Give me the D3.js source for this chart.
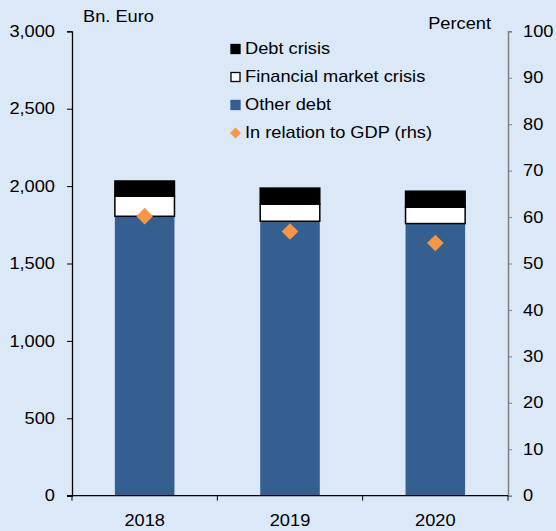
<!DOCTYPE html>
<html>
<head>
<meta charset="utf-8">
<script src="https://cdn.jsdelivr.net/npm/d3@7"></script>
<style>
  body { margin: 0; background: #dbe8f7; }
  svg { display: block; font-family: "Liberation Sans", Arial, sans-serif; }
</style>
</head>
<body>
<svg id="chart"></svg>
<script>
// chart data
var years = ["2018", "2019", "2020"];
var otherDebt = [1805, 1773, 1758];
var financialCrisis = [130, 110, 106];
var debtCrisis = [98, 104, 103];
var gdpRatio = [60.2, 56.9, 54.4];

var leftTicks = [0, 500, 1000, 1500, 2000, 2500, 3000];
var rightTicks = [0, 10, 20, 30, 40, 50, 60, 70, 80, 90, 100];

var legendItems = [
    { name: "Debt crisis", type: "rect", fill: "#000000", stroke: "#000000" },
    { name: "Financial market crisis", type: "rect", fill: "#ffffff", stroke: "#000000" },
    { name: "Other debt", type: "rect", fill: "#365f91", stroke: "#365f91" },
    { name: "In relation to GDP (rhs)", type: "diamond", fill: "#f79646" }
];

var W = 556, H = 531;
var margin = { left: 72, right: 48, top: 31.3, bottom: 35.3 };
var width = W - margin.left - margin.right;
var height = H - margin.top - margin.bottom;
var fontSize = "16px";
var stretchX = 1.14;

var svg = d3.select("#chart").attr("width", W).attr("height", H);
var g = svg.append("g").attr("transform", "translate(" + margin.left + "," + margin.top + ")");

var x = d3.scaleBand().domain(years).range([0, width]).paddingInner(0.59).paddingOuter(0.295);
var yL = d3.scaleLinear().domain([0, 3000]).range([height, 0]);
var yR = d3.scaleLinear().domain([0, 100]).range([height, 0]);

// stacked bars
var rows = years.map(function(yr, i) {
    return { year: yr, other: otherDebt[i], fin: financialCrisis[i], debt: debtCrisis[i] };
});
var stack = d3.stack().keys(["other", "fin", "debt"]);
var series = stack(rows);
var fills = { other: "#365f91", fin: "#ffffff", debt: "#000000" };

series.forEach(function(s) {
    g.selectAll(".bar-" + s.key)
        .data(s).enter()
        .append("rect")
        .attr("class", "bar-" + s.key)
        .attr("x", d => x(d.data.year))
        .attr("width", x.bandwidth())
        .attr("y", d => yL(d[1]))
        .attr("height", d => yL(d[0]) - yL(d[1]))
        .style("fill", fills[s.key])
        .style("stroke", s.key == "other" ? "none" : "#000000")
        .style("stroke-width", s.key == "other" ? 0 : 1.5);
});

// left axis
var axL = g.append("g")
    .call(d3.axisLeft(yL).tickValues(leftTicks).tickSize(5).tickPadding(12).tickFormat(d3.format(",")));
axL.select(".domain").attr("stroke", "#000").attr("stroke-width", 1.3);
axL.selectAll(".tick line").attr("stroke", "#000");

// right axis
var axR = g.append("g")
    .attr("transform", "translate(" + width + ",0)")
    .call(d3.axisRight(yR).tickValues(rightTicks).tickSize(4).tickPadding(11));
axR.select(".domain").attr("stroke", "#808080").attr("stroke-width", 1.5);
axR.selectAll(".tick line").attr("stroke", "#808080");

// bottom axis
var axB = g.append("g")
    .attr("transform", "translate(0," + height + ")")
    .call(d3.axisBottom(x).tickSize(0).tickPadding(19));
axB.select(".domain").remove();
g.append("line")
    .attr("x1", -5).attr("x2", width)
    .attr("y1", height).attr("y2", height)
    .attr("stroke", "#000").attr("stroke-width", 1.2);
var xEdges = years.map(d => x(d) - x.step() * x.paddingInner() / 2).concat([width]);
g.selectAll(".xtick")
    .data(xEdges).enter()
    .append("line")
    .attr("x1", d => d).attr("x2", d => d)
    .attr("y1", height).attr("y2", height + 5)
    .attr("stroke", "#000");

// GDP diamonds
g.selectAll(".gdp")
    .data(gdpRatio).enter()
    .append("path")
    .attr("class", "gdp")
    .attr("d", d3.symbol(d3.symbolSquare).size(138))
    .attr("transform", (d, i) => "translate(" + (x(years[i]) + x.bandwidth() / 2) + "," + yR(d) + ") rotate(45)")
    .style("fill", "#f79646");

// axis titles
svg.append("text").attr("x", 83).attr("y", 22).text("Bn. Euro");
svg.append("text").attr("x", 491).attr("y", 29)
    .attr("text-anchor", "end").text("Percent");

// legend
var lg = svg.append("g").attr("transform", "translate(230,0)");
legendItems.forEach(function(item, i) {
    var yy = 54 + i * 28;
    if (item.type == "rect") {
        lg.append("rect")
            .attr("x", 1).attr("y", yy - 9.5)
            .attr("width", 9).attr("height", 9)
            .style("fill", item.fill)
            .style("stroke", item.stroke)
            .style("stroke-width", 1.3);
    } else {
        lg.append("path")
            .attr("d", d3.symbol(d3.symbolSquare).size(60))
            .attr("transform", "translate(5.5," + (yy - 5) + ") rotate(45)")
            .style("fill", item.fill);
    }
    lg.append("text")
        .attr("x", 15).attr("y", yy)
        .text(item.name);
});

// the original lettering is a bit wider than normal Arial
svg.selectAll("text").each(function() {
    var t = d3.select(this);
    var tx = +t.attr("x") || 0, ty = +t.attr("y") || 0;
    t.attr("x", 0).attr("y", 0)
        .attr("transform", "translate(" + tx + "," + ty + ") scale(" + stretchX + ",1)")
        .style("font-size", fontSize)
        .style("fill", "#000");
});
</script>
</body>
</html>
